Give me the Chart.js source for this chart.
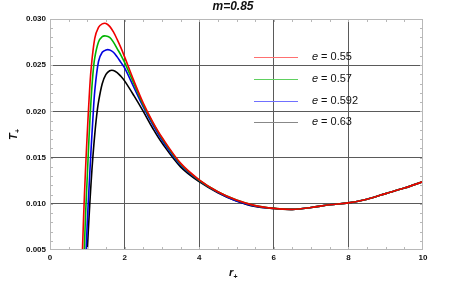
<!DOCTYPE html>
<html>
<head>
<meta charset="utf-8">
<script src="https://cdn.jsdelivr.net/npm/chart.js@4/dist/chart.umd.min.js"></script>
<style>
html, body { margin: 0; padding: 0; background: #fff; }
#wrap { width: 457px; height: 286px; }
</style>
</head>
<body>
<div id="wrap"><canvas id="c" width="457" height="286"></canvas></div>
<script>
// values
var labels = ["0.55", "0.57", "0.592", "0.63"];

var rRed = [0.85, 0.9, 0.95, 1.0, 1.05, 1.1, 1.2, 1.3, 1.4, 1.5, 1.6, 1.7, 1.8, 1.9, 2.0, 2.25, 2.5, 2.75, 3.0, 3.5, 4.0, 4.5, 5.0, 5.5, 6.0, 6.5, 7.0, 7.5, 8.0, 8.5, 9.0, 9.5, 10.0];
var tRed = [0.0025, 0.0085, 0.0135, 0.0177, 0.0215, 0.0245, 0.0279, 0.0291, 0.02947, 0.02952, 0.0292, 0.0286, 0.0278, 0.0269, 0.0259, 0.0233, 0.0209, 0.0189, 0.0172, 0.0144, 0.0126, 0.0113, 0.0104, 0.0098, 0.0095, 0.0094, 0.0096, 0.0099, 0.0101, 0.0105, 0.0111, 0.0117, 0.0124];

var rGreen = [0.9, 0.95, 1.0, 1.05, 1.1, 1.15, 1.2, 1.3, 1.4, 1.5, 1.6, 1.7, 1.8, 1.9, 2.0, 2.25, 2.5, 2.75, 3.0, 3.5, 4.0, 4.5, 5.0, 5.5, 6.0, 6.5, 7.0, 7.5, 8.0, 8.5, 9.0, 9.5, 10.0];
var tGreen = [0.0025, 0.0085, 0.0130, 0.0175, 0.0212, 0.0240, 0.0258, 0.0275, 0.0281, 0.02816, 0.0280, 0.0275, 0.0268, 0.0261, 0.0253, 0.0230, 0.0207, 0.0188, 0.0171, 0.0143, 0.01255, 0.0113, 0.0104, 0.0098, 0.0095, 0.0094, 0.0096, 0.0099, 0.0101, 0.0105, 0.0111, 0.0117, 0.0124];

var rBlue = [0.95, 1.0, 1.05, 1.1, 1.15, 1.2, 1.3, 1.4, 1.5, 1.6, 1.7, 1.8, 1.9, 2.0, 2.25, 2.5, 2.75, 3.0, 3.5, 4.0, 4.5, 5.0, 5.5, 6.0, 6.5, 7.0, 7.5, 8.0, 8.5, 9.0, 9.5, 10.0];
var tBlue = [0.003, 0.0080, 0.0120, 0.0158, 0.0192, 0.0222, 0.0254, 0.0264, 0.02665, 0.02665, 0.0264, 0.0259, 0.0253, 0.0247, 0.0226, 0.0205, 0.0186, 0.0169, 0.0142, 0.0125, 0.01125, 0.0103, 0.00975, 0.0095, 0.0094, 0.0096, 0.0099, 0.0101, 0.0105, 0.0111, 0.0117, 0.0124];

var rBlack = [0.97, 1.0, 1.05, 1.1, 1.15, 1.2, 1.25, 1.3, 1.4, 1.5, 1.6, 1.7, 1.8, 1.9, 2.0, 2.25, 2.5, 2.75, 3.0, 3.5, 4.0, 4.5, 5.0, 5.5, 6.0, 6.5, 7.0, 7.5, 8.0, 8.5, 9.0, 9.5, 10.0];
var tBlack = [0.0028, 0.005, 0.0088, 0.0122, 0.0151, 0.0175, 0.0195, 0.0210, 0.0230, 0.0240, 0.02440, 0.02443, 0.0242, 0.0238, 0.0233, 0.0217, 0.0200, 0.0182, 0.0166, 0.0140, 0.0124, 0.0112, 0.0103, 0.0097, 0.0095, 0.0094, 0.0096, 0.0099, 0.0101, 0.0105, 0.0111, 0.0117, 0.0124];

var xTicks = [0, 2, 4, 6, 8, 10];
var yTicks = ["0.005", "0.010", "0.015", "0.020", "0.025", "0.030"];

function pts(rs, ts){
	var out = [];
	for (var i = 0; i < rs.length; i++) out.push({x: rs[i], y: ts[i]});
	return out;
}

var lineColors = ["#f00000", "#00b400", "#0000e0", "#000000"];
var legendColors = ["#ff7070", "#60d060", "#7070ff", "#888888"];
var series = [pts(rRed, tRed), pts(rGreen, tGreen), pts(rBlue, tBlue), pts(rBlack, tBlack)];

var datasets = [];
for (var k = 0; k < series.length; k++) {
	datasets.push({
		label: "e = " + labels[k],
		data: series[k],
		borderColor: lineColors[k],
		borderWidth: 1.6,
		pointRadius: 0,
		fill: false,
		tension: 0.35
	});
}

var BOLD = "'Liberation Sans', Arial, sans-serif";

var decor = {
	id: 'decor',
	afterDraw: function(chart){
		var ctx = chart.ctx, a = chart.chartArea;
		var xs = chart.scales.x, ys = chart.scales.y;
		ctx.save();
		// frame
		ctx.strokeStyle = '#b8b8b8';
		ctx.lineWidth = 1;
		ctx.strokeRect(a.left + 0.5, a.top + 0.5, a.right - a.left - 1, a.bottom - a.top - 1);
		// minor ticks
		ctx.beginPath();
		for (var v = 0.5; v < 10; v += 0.5) {
			var px = Math.round(xs.getPixelForValue(v)) + 0.5;
			ctx.moveTo(px, a.bottom); ctx.lineTo(px, a.bottom - 3);
			ctx.moveTo(px, a.top); ctx.lineTo(px, a.top + 3);
		}
		for (var j = 6; j < 30; j++) {
			var py = Math.round(ys.getPixelForValue(j / 1000)) + 0.5;
			ctx.moveTo(a.left, py); ctx.lineTo(a.left + 3, py);
			ctx.moveTo(a.right, py); ctx.lineTo(a.right - 3, py);
		}
		ctx.stroke();

		// title
		ctx.fillStyle = '#111';
		ctx.font = "italic bold 12px " + BOLD;
		ctx.textAlign = 'center';
		ctx.textBaseline = 'middle';
		ctx.fillText("m=0.85", 233, 7);

		// x axis title r+
		ctx.font = "italic bold 11px " + BOLD;
		ctx.textAlign = 'left';
		ctx.fillText("r", 229, 273);
		ctx.font = "bold 7px " + BOLD;
		ctx.fillText("+", 233.5, 277);

		// y axis title T+
		ctx.save();
		ctx.translate(14, 136);
		ctx.rotate(-Math.PI / 2);
		ctx.font = "italic bold 11px " + BOLD;
		ctx.textAlign = 'left';
		ctx.fillText("T", -4, 0);
		ctx.font = "bold 7px " + BOLD;
		ctx.fillText("+", 3, 4);
		ctx.restore();

		// legend
		for (var i = 0; i < labels.length; i++) {
			var ly = 57 + i * 21.8;
			ctx.strokeStyle = legendColors[i];
			ctx.lineWidth = 1;
			ctx.beginPath();
			ctx.moveTo(254, Math.round(ly) + 0.5);
			ctx.lineTo(298, Math.round(ly) + 0.5);
			ctx.stroke();
			ctx.fillStyle = '#111';
			ctx.font = "italic 11px " + BOLD;
			ctx.textAlign = 'left';
			ctx.fillText("e", 312, ly);
			ctx.font = "11px " + BOLD;
			ctx.fillText(" = " + labels[i], 318, ly);
		}
		ctx.restore();
	}
};

function gridColor(c){
	var v = c.tick ? c.tick.value : null;
	if (c.scale.axis === 'x' && (v === 0 || v === 10)) return 'rgba(0,0,0,0)';
	if (c.scale.axis === 'y' && (Math.abs(v - 0.005) < 1e-9 || Math.abs(v - 0.03) < 1e-9)) return 'rgba(0,0,0,0)';
	return '#5a5a5a';
}

var config = {
	type: 'line',
	data: { datasets: datasets },
	options: {
		responsive: false,
		animation: false,
		layout: { padding: { left: 0, right: 34, top: 19, bottom: 0 } },
		plugins: {
			legend: { display: false },
			tooltip: { enabled: false },
			title: { display: false }
		},
		scales: {
			x: {
				type: 'linear',
				min: 0, max: 10,
				afterBuildTicks: function(s){ s.ticks = xTicks.map(function(v){ return {value: v}; }); },
				ticks: {
					color: '#111',
					font: { family: BOLD, size: 8, weight: 'bold' },
					padding: 3,
					maxRotation: 0
				},
				grid: { color: gridColor, lineWidth: 1, drawTicks: false },
				border: { display: false },
				afterFit: function(s){ s.height = 36; }
			},
			y: {
				type: 'linear',
				min: 0.005, max: 0.030,
				afterBuildTicks: function(s){ s.ticks = yTicks.map(function(v){ return {value: parseFloat(v)}; }); },
				ticks: {
					color: '#111',
					font: { family: BOLD, size: 8, weight: 'bold' },
					padding: 4,
					callback: function(v){ return v.toFixed(3); }
				},
				grid: { color: gridColor, lineWidth: 1, drawTicks: false },
				border: { display: false },
				afterFit: function(s){ s.width = 50; }
			}
		}
	},
	plugins: [decor]
};

var chart = new Chart(document.getElementById('c').getContext('2d'), config);
</script>
</body>
</html>
